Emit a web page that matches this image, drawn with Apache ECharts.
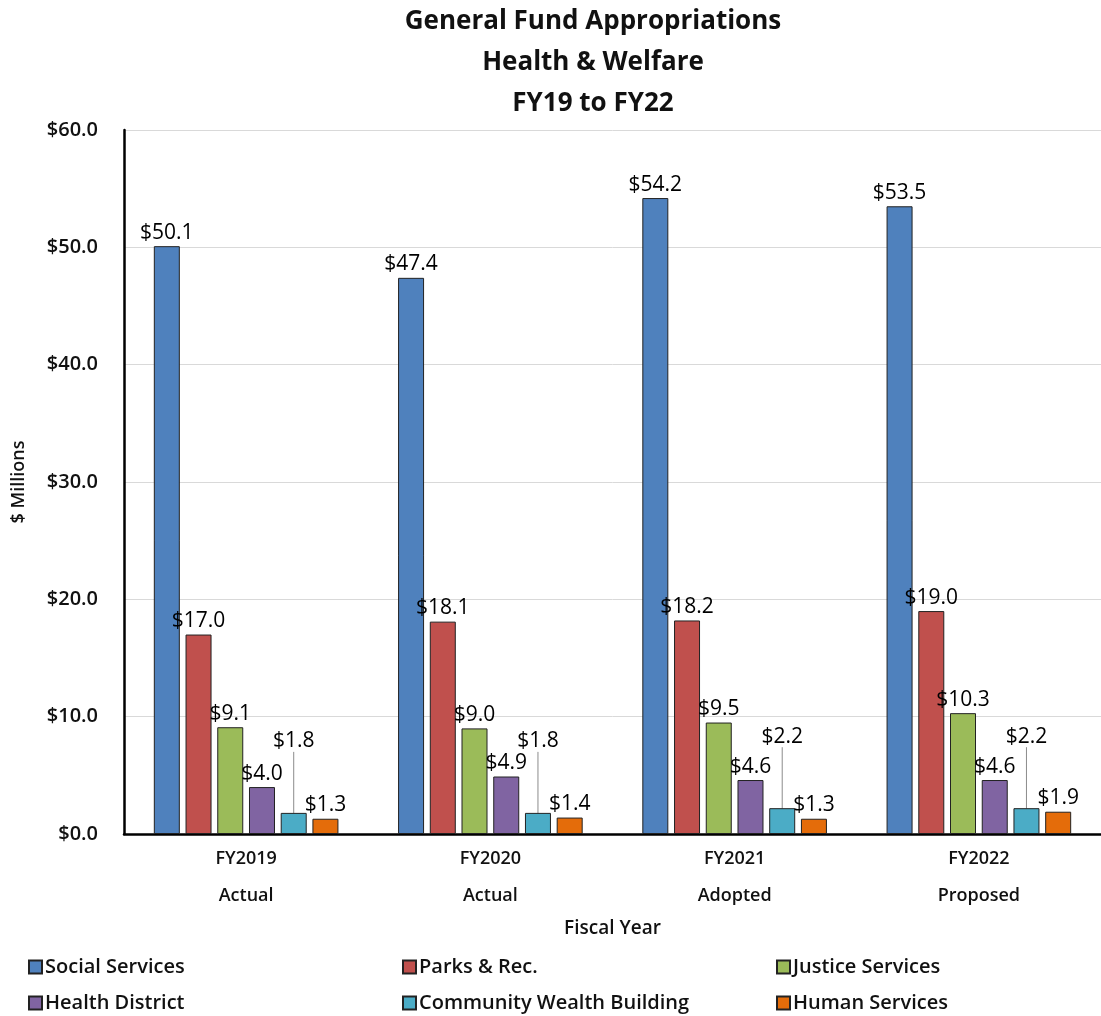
<!DOCTYPE html>
<html>
<head>
<meta charset="utf-8">
<script src="https://cdn.jsdelivr.net/npm/echarts@6/dist/echarts.min.js"></script>
<style>
  html, body { margin: 0; padding: 0; background: #fff; }
  #main { width: 1101px; height: 1016px; }
</style>
</head>
<body>
<div id="main"></div>
<script>
// fiscal years on the x axis
const years = ['FY2019\nActual', 'FY2020\nActual', 'FY2021\nAdopted', 'FY2022\nProposed'];

// $ millions per department
const socialServices = [50.1, 47.4, 54.2, 53.5];
const parksRec = [17.0, 18.1, 18.2, 19.0];
const justiceServices = [9.1, 9.0, 9.5, 10.3];
const healthDistrict = [4.0, 4.9, 4.6, 4.6];
const communityWealth = [1.8, 1.8, 2.2, 2.2];
const humanServices = [1.3, 1.4, 1.3, 1.9];

const yTicks = [0, 10, 20, 30, 40, 50, 60];

const FONT = '"Open Sans", "Liberation Sans", sans-serif';
const textColor = '#111';

const myChart = echarts.init(document.getElementById('main'));

function money(v) {
  return '$' + Number(v).toFixed(1);
}

function makeBar(name, data, color, extra) {
  const s = {
    name: name,
    type: 'bar',
    data: data,
    barWidth: 26,
    barGap: '22%',
    itemStyle: {
      color: color,
      borderColor: '#222',
      borderWidth: 1
    },
    label: {
      show: true,
      position: 'top',
      distance: 3,
      color: '#000',
      fontFamily: FONT,
      fontSize: 21,
      formatter: p => money(p.value)
    }
  };
  return Object.assign(s, extra || {});
}

// one legend per item so the 2x3 block sits like the original
const legendSpots = [
  ['Social Services', 28, 957],
  ['Parks & Rec.', 402, 957],
  ['Justice Services', 776, 957],
  ['Health District', 28, 993],
  ['Community Wealth Building', 402, 993],
  ['Human Services', 776, 993]
];

const option = {
  animation: false,
  backgroundColor: '#fff',
  title: {
    text: 'General Fund Appropriations\nHealth & Welfare\nFY19 to FY22',
    left: 588,
    top: -4,
    textAlign: 'center',
    textStyle: {
      fontFamily: FONT,
      fontWeight: 'bold',
      fontSize: 26,
      lineHeight: 41,
      color: textColor
    }
  },
  grid: {
    left: 124,
    right: 0,
    top: 130,
    bottom: 182,
    containLabel: false,
    outerBoundsMode: 'none'
  },
  legend: legendSpots.map(l => ({
    data: [l[0]],
    left: l[1],
    top: l[2],
    padding: 0,
    icon: 'rect',
    itemWidth: 13,
    itemHeight: 13,
    itemGap: 0,
    textStyle: { fontFamily: FONT, fontSize: 20, fontWeight: 600, color: textColor, padding: [0, 0, 0, -2] }
  })),
  xAxis: {
    type: 'category',
    data: years,
    name: 'Fiscal Year',
    nameLocation: 'middle',
    nameGap: 84,
    nameTextStyle: { fontFamily: FONT, fontSize: 19, fontWeight: 600, color: textColor },
    axisLine: { lineStyle: { color: '#000', width: 2.5 } },
    axisTick: { show: false },
    axisLabel: {
      fontFamily: FONT,
      fontSize: 18,
      fontWeight: 600,
      color: textColor,
      lineHeight: 37,
      margin: 6
    }
  },
  yAxis: {
    type: 'value',
    min: yTicks[0],
    max: yTicks[yTicks.length - 1],
    interval: 10,
    name: '$ Millions',
    nameLocation: 'middle',
    nameGap: 96,
    nameRotate: 90,
    nameTextStyle: { fontFamily: FONT, fontSize: 18, fontWeight: 600, color: textColor },
    axisLine: { show: true, lineStyle: { color: '#000', width: 2.5 } },
    axisTick: { show: false },
    splitLine: { lineStyle: { color: '#d9d9d9', width: 1 } },
    axisLabel: {
      fontFamily: FONT,
      fontSize: 20,
      fontWeight: 600,
      color: textColor,
      margin: 26,
      formatter: v => money(v)
    }
  },
  series: [
    makeBar('Social Services', socialServices, '#4F81BD'),
    makeBar('Parks & Rec.', parksRec, '#C0504D'),
    makeBar('Justice Services', justiceServices, '#9BBB59'),
    makeBar('Health District', healthDistrict, '#8064A2'),
    makeBar('Community Wealth Building', communityWealth, '#4BACC6', {
      labelLayout: { dy: -58 },
      labelLine: { show: true, lineStyle: { color: '#8c8c8c', width: 1 } }
    }),
    makeBar('Human Services', humanServices, '#E46C0A')
  ]
};

myChart.setOption(option);
</script>
</body>
</html>
